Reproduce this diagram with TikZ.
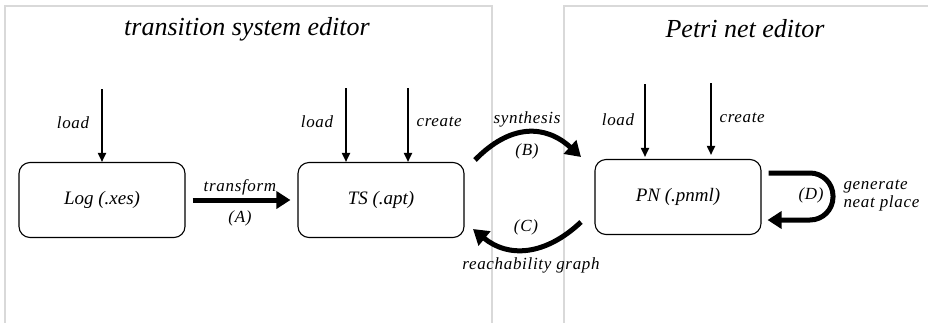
\documentclass[tikz,border=0pt]{standalone}
\usepackage{fontspec}
\setmainfont{Liberation Serif}
\newfontfamily\lblfont[LetterSpace=4]{Liberation Serif}
\usetikzlibrary{arrows.meta}
\begin{document}
\begin{tikzpicture}[x=1pt,y=-1pt,
  frame/.style={draw=black!15,line width=2pt},
  title/.style={font=\fontsize{26}{30}\selectfont\itshape},
  state/.style={draw,rounded corners=11pt,line width=1.1pt,minimum width=166pt,minimum height=75pt,font=\fontsize{19}{22}\selectfont\itshape},
  lbl/.style={font=\fontsize{17}{20}\selectfont\lblfont\itshape},
  thin/.style={line width=1.8pt,-{Triangle[length=9pt,width=8pt]}},
  thick/.style={line width=5pt,-{Triangle[length=14pt,width=17pt]}},
  thickcurve/.style={line width=5pt,line cap=butt,-{Triangle[length=15pt,width=18pt]}}]
\useasboundingbox (0,0) rectangle (928,322);
% editor panels
\draw[frame] (5,330) -- (5,6) -- (492,6) -- (492,330);
\draw[frame] (564,330) -- (564,6) -- (935,6);
\node[title] (tsed) at (247,29) {transition system editor};
\node[title] (pned) at (745,29) {Petri net editor};
% models
\node[state] (log) at (102,200) {Log (.xes)};
\node[state] (ts) at (381,200) {TS (.apt)};
\node[state] (pn) at (678,197) {PN (.pnml)};
% load / create entries
\coordinate (login) at (102,89);
\coordinate (tsload) at (346,88);
\coordinate (tscreate) at (408,88);
\coordinate (pnload) at (645,84);
\coordinate (pncreate) at (711,83);
\draw[thin] (login) -- (log.north -| login);
\draw[thin] (tsload) -- (ts.north -| tsload);
\draw[thin] (tscreate) -- (ts.north -| tscreate);
\draw[thin] (pnload) -- ([yshift=2pt]pn.north -| pnload);
\draw[thin] (pncreate) -- ([yshift=4pt]pn.north -| pncreate);
\node[lbl] (l1) at (73,123) {load};
\node[lbl] (l2) at (317,122) {load};
\node[lbl,anchor=west] (c2) at (413,122) {create};
\node[lbl] (l3) at (618,120) {load};
\node[lbl,anchor=west] (c3) at (716,118) {create};
% transform (A)
\draw[thick] ([xshift=7pt]log.east) -- ([xshift=-7pt]ts.east -| ts.west);
\node[lbl] (tr) at (240,187) {transform};
\node[lbl] (a) at (240,218) {(A)};
% synthesis (B)
\coordinate (bs) at (475,160);
\coordinate (be) at (581,157);
\draw[thickcurve] (bs) .. controls (510,124) and (545,124) .. (be);
\node[lbl] (syn) at (527,119) {synthesis};
\node[lbl] (b) at (527,151) {(B)};
% reachability graph (C)
\coordinate (cs) at (581,222);
\coordinate (ce) at (473,229);
\draw[thickcurve] (cs) .. controls (545,256) and (508,258) .. (ce);
\node[lbl] (c) at (526,227) {(C)};
\node[lbl] (rg) at (531,265) {reachability graph};
% generate neat place (D)
\coordinate (dtop) at (833,173);
\coordinate (dbot) at (833,220);
\draw[thick,rounded corners=23pt] ([xshift=7pt]pn.east |- dtop) -- (dtop) -- (dbot) -- ([xshift=6pt]pn.east |- dbot);
\node[lbl] (d) at (811,195) {(D)};
\node[lbl,anchor=west,align=left] (gen) at (840,196) {generate\\[-2pt]neat place};
\end{tikzpicture}
\end{document}
